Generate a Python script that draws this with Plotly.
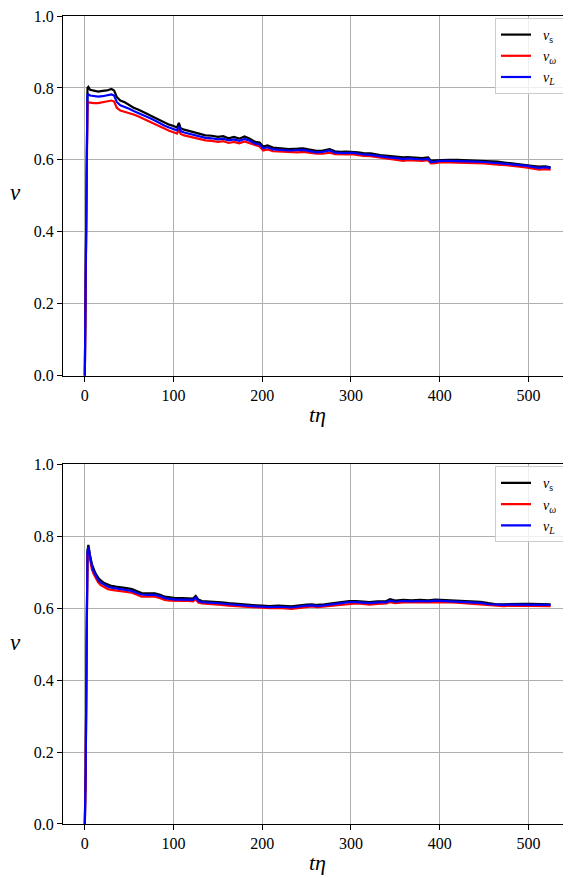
import plotly.graph_objects as go

# ---------------- data ----------------
t_top = [0, 1, 2, 3, 4, 6, 10, 15, 20, 25, 30, 33, 36, 40, 45, 50, 55, 60, 65, 70, 75, 80, 85, 90, 95,
         100, 104, 106, 108, 112, 118, 124, 130, 136, 143, 150, 156, 162, 168, 174, 180, 186, 192, 197,
         201, 206, 212, 220, 230, 240, 246, 252, 261, 268, 276, 282, 288, 295, 301, 308, 314, 322, 333,
         342, 352, 359, 364, 372, 380, 387, 390, 395, 400, 410, 420, 430, 440, 450, 457, 465, 475, 483,
         490, 497, 506, 512, 519, 525]
vs_top = [0, 0.2, 0.55, 0.80, 0.803, 0.795, 0.792, 0.790, 0.792, 0.793, 0.797, 0.793, 0.775, 0.765, 0.760,
          0.752, 0.745, 0.740, 0.733, 0.728, 0.722, 0.716, 0.710, 0.703, 0.698, 0.694, 0.690, 0.703, 0.688,
          0.684, 0.680, 0.676, 0.672, 0.668, 0.667, 0.664, 0.666, 0.660, 0.664, 0.659, 0.665, 0.659, 0.650,
          0.648, 0.637, 0.640, 0.634, 0.632, 0.630, 0.631, 0.632, 0.629, 0.625, 0.626, 0.630, 0.624, 0.622,
          0.623, 0.623, 0.621, 0.619, 0.618, 0.613, 0.611, 0.609, 0.607, 0.608, 0.606, 0.605, 0.607, 0.598,
          0.599, 0.600, 0.600, 0.600, 0.599, 0.598, 0.597, 0.596, 0.595, 0.592, 0.590, 0.589, 0.587, 0.583,
          0.581, 0.582, 0.579]
vw_top = [0, 0.2, 0.54, 0.76, 0.760, 0.759, 0.758, 0.758, 0.760, 0.762, 0.765, 0.762, 0.745, 0.737, 0.734,
          0.731, 0.726, 0.721, 0.715, 0.710, 0.704, 0.699, 0.692, 0.686, 0.681, 0.677, 0.673, 0.684, 0.672,
          0.668, 0.664, 0.660, 0.657, 0.654, 0.653, 0.650, 0.652, 0.647, 0.650, 0.646, 0.651, 0.646, 0.639,
          0.637, 0.626, 0.629, 0.624, 0.623, 0.621, 0.621, 0.622, 0.620, 0.617, 0.617, 0.620, 0.616, 0.615,
          0.615, 0.616, 0.613, 0.611, 0.610, 0.606, 0.603, 0.600, 0.597, 0.599, 0.598, 0.597, 0.599, 0.590,
          0.591, 0.593, 0.593, 0.593, 0.592, 0.591, 0.590, 0.588, 0.587, 0.585, 0.582, 0.581, 0.579, 0.575,
          0.573, 0.574, 0.573]
vL_top = [0, 0.2, 0.55, 0.78, 0.782, 0.779, 0.777, 0.776, 0.777, 0.779, 0.782, 0.779, 0.761, 0.752, 0.748,
          0.742, 0.736, 0.731, 0.725, 0.720, 0.714, 0.708, 0.701, 0.695, 0.690, 0.686, 0.682, 0.694, 0.680,
          0.676, 0.672, 0.669, 0.665, 0.661, 0.660, 0.657, 0.659, 0.654, 0.657, 0.653, 0.658, 0.653, 0.645,
          0.643, 0.632, 0.635, 0.629, 0.628, 0.626, 0.627, 0.628, 0.625, 0.621, 0.622, 0.626, 0.620, 0.619,
          0.619, 0.620, 0.617, 0.615, 0.614, 0.609, 0.607, 0.605, 0.602, 0.604, 0.602, 0.601, 0.603, 0.594,
          0.595, 0.597, 0.597, 0.597, 0.596, 0.595, 0.594, 0.593, 0.592, 0.589, 0.587, 0.586, 0.584, 0.580,
          0.578, 0.580, 0.577]

t_bot = [0, 1, 2, 3, 4, 5, 6, 8, 10, 12, 15, 18, 22, 26, 30, 35, 41, 47, 53, 58, 64, 70, 79, 85, 90, 96,
         102, 110, 117, 122, 125, 128, 132, 140, 147, 154, 162, 170, 177, 185, 193, 200, 208, 218, 226,
         233, 240, 245, 250, 256, 262, 270, 276, 283, 291, 298, 306, 313, 321, 330, 340, 344, 350, 359,
         368, 378, 387, 395, 405, 414, 423, 434, 446, 455, 464, 472, 480, 487, 495, 503, 510, 518, 525]
vs_bot = [0, 0.15, 0.5, 0.76, 0.776, 0.765, 0.745, 0.722, 0.708, 0.697, 0.685, 0.677, 0.670, 0.665, 0.662,
          0.660, 0.659, 0.656, 0.653, 0.648, 0.642, 0.641, 0.641, 0.637, 0.632, 0.630, 0.628, 0.628, 0.628,
          0.627, 0.634, 0.624, 0.620, 0.619, 0.618, 0.616, 0.614, 0.612, 0.611, 0.609, 0.608, 0.607, 0.606,
          0.607, 0.606, 0.605, 0.607, 0.609, 0.610, 0.611, 0.609, 0.611, 0.613, 0.615, 0.618, 0.620, 0.620,
          0.618, 0.617, 0.619, 0.620, 0.625, 0.621, 0.623, 0.622, 0.623, 0.622, 0.624, 0.623, 0.622, 0.620,
          0.619, 0.618, 0.614, 0.611, 0.611, 0.612, 0.613, 0.612, 0.612, 0.612, 0.611, 0.611]
vw_bot = [0, 0.15, 0.5, 0.75, 0.762, 0.750, 0.732, 0.708, 0.695, 0.684, 0.672, 0.664, 0.658, 0.653, 0.651,
          0.649, 0.648, 0.646, 0.643, 0.638, 0.632, 0.632, 0.632, 0.628, 0.623, 0.621, 0.620, 0.620, 0.620,
          0.619, 0.625, 0.616, 0.613, 0.612, 0.611, 0.609, 0.607, 0.606, 0.605, 0.603, 0.602, 0.601, 0.600,
          0.601, 0.600, 0.598, 0.600, 0.602, 0.604, 0.605, 0.603, 0.605, 0.606, 0.608, 0.611, 0.613, 0.613,
          0.612, 0.610, 0.612, 0.613, 0.617, 0.614, 0.616, 0.616, 0.617, 0.616, 0.618, 0.617, 0.616, 0.615,
          0.613, 0.611, 0.608, 0.606, 0.606, 0.607, 0.607, 0.607, 0.607, 0.607, 0.606, 0.606]
vL_bot = [0, 0.15, 0.5, 0.755, 0.770, 0.758, 0.739, 0.716, 0.702, 0.691, 0.679, 0.671, 0.665, 0.660, 0.657,
          0.655, 0.654, 0.651, 0.648, 0.643, 0.638, 0.637, 0.637, 0.633, 0.628, 0.626, 0.624, 0.624, 0.624,
          0.623, 0.630, 0.620, 0.617, 0.616, 0.615, 0.613, 0.611, 0.609, 0.608, 0.606, 0.605, 0.604, 0.603,
          0.604, 0.603, 0.602, 0.604, 0.606, 0.607, 0.608, 0.606, 0.608, 0.610, 0.612, 0.615, 0.617, 0.617,
          0.615, 0.614, 0.616, 0.617, 0.621, 0.618, 0.620, 0.619, 0.620, 0.619, 0.621, 0.620, 0.619, 0.618,
          0.616, 0.615, 0.611, 0.609, 0.609, 0.610, 0.610, 0.610, 0.610, 0.610, 0.609, 0.609]

series_names = ["<i>v</i><sub>s</sub>", "<i>v</i><sub><i>ω</i></sub>", "<i>v</i><sub><i>L</i></sub>"]
series_colors = ["black", "red", "blue"]
x_ticks = [0, 100, 200, 300, 400, 500]
y_ticks = [0.0, 0.2, 0.4, 0.6, 0.8, 1.0]
y_ticklabels = ["0.0", "0.2", "0.4", "0.6", "0.8", "1.0"]

# ---------------- figure ----------------
FONT = "Liberation Serif, DejaVu Serif, serif"
OFF = 8                      # page body margin offset
W, H = 571 - OFF, 878 - OFF
ML, MR, MT, MB = 63 - OFF, 0, 13 - OFF, 54

fig = go.Figure()
panels = [
    (t_top, [vs_top, vw_top, vL_top], "x", "y", "legend"),
    (t_bot, [vs_bot, vw_bot, vL_bot], "x2", "y2", "legend2"),
]
for t, ys, xa, ya, lg in panels:
    for name, col, v in zip(series_names, series_colors, ys):
        fig.add_trace(go.Scatter(x=t, y=v, mode="lines", name="&nbsp;&nbsp;" + name + "&nbsp;",
                                 xaxis=xa, yaxis=ya, legend=lg, line=dict(color=col, width=2.2)))

plot_h = H - MT - MB
def frac(py_ref):
    return (H - MB - (py_ref - OFF)) / plot_h

pw = W - ML - MR
def px_x(px_ref):
    return ((px_ref - OFF) - ML) / pw

axis_common = dict(showgrid=True, gridcolor="#b0b0b0", gridwidth=1, showline=True,
                   linecolor="black", linewidth=1, ticks="outside", ticklen=5, tickcolor="black",
                   tickfont=dict(family=FONT, size=16, color="black"), zeroline=False,
                   ticklabeloverflow="allow")
xr = [-24.6, 548]
fig.update_layout(
    xaxis=dict(domain=[0, 1], range=xr, tickvals=x_ticks, anchor="y", mirror=True, **axis_common),
    yaxis=dict(domain=[frac(374), 1], range=[0, 1], tickvals=y_ticks, ticktext=y_ticklabels,
               anchor="x", **axis_common),
    xaxis2=dict(domain=[0, 1], range=xr, tickvals=x_ticks, anchor="y2", mirror=True, **axis_common),
    yaxis2=dict(domain=[0, frac(463)], range=[0, 1], tickvals=y_ticks, ticktext=y_ticklabels,
                anchor="x2", **axis_common),
)

legend_style = dict(bgcolor="rgba(255,255,255,0.8)", bordercolor="#cccccc", borderwidth=1,
                    font=dict(family=FONT, size=14, color="black"), xanchor="left", yanchor="top",
                    tracegroupgap=0, itemwidth=30)
fig.update_layout(
    legend=dict(x=px_x(495), y=frac(15), **legend_style),
    legend2=dict(x=px_x(495), y=frac(465), **legend_style),
)

annots = []
for ycenter, xlab_y in [(190, 413), (642, 863)]:
    annots.append(dict(text="<i>v</i>", xref="paper", yref="paper", x=px_x(15), y=frac(ycenter),
                       showarrow=False, font=dict(family=FONT, size=23, color="black"),
                       xanchor="center", yanchor="middle"))
    annots.append(dict(text="<i>tη</i>", xref="paper", yref="paper", x=px_x(317), y=frac(xlab_y),
                       showarrow=False, font=dict(family=FONT, size=22, color="black"),
                       xanchor="center", yanchor="middle"))
fig.update_layout(
    annotations=annots,
    width=W, height=H,
    margin=dict(l=ML, r=MR, t=MT, b=MB, pad=0),
    paper_bgcolor="white", plot_bgcolor="white",
    showlegend=True,
)

fig.write_html("out.html")
